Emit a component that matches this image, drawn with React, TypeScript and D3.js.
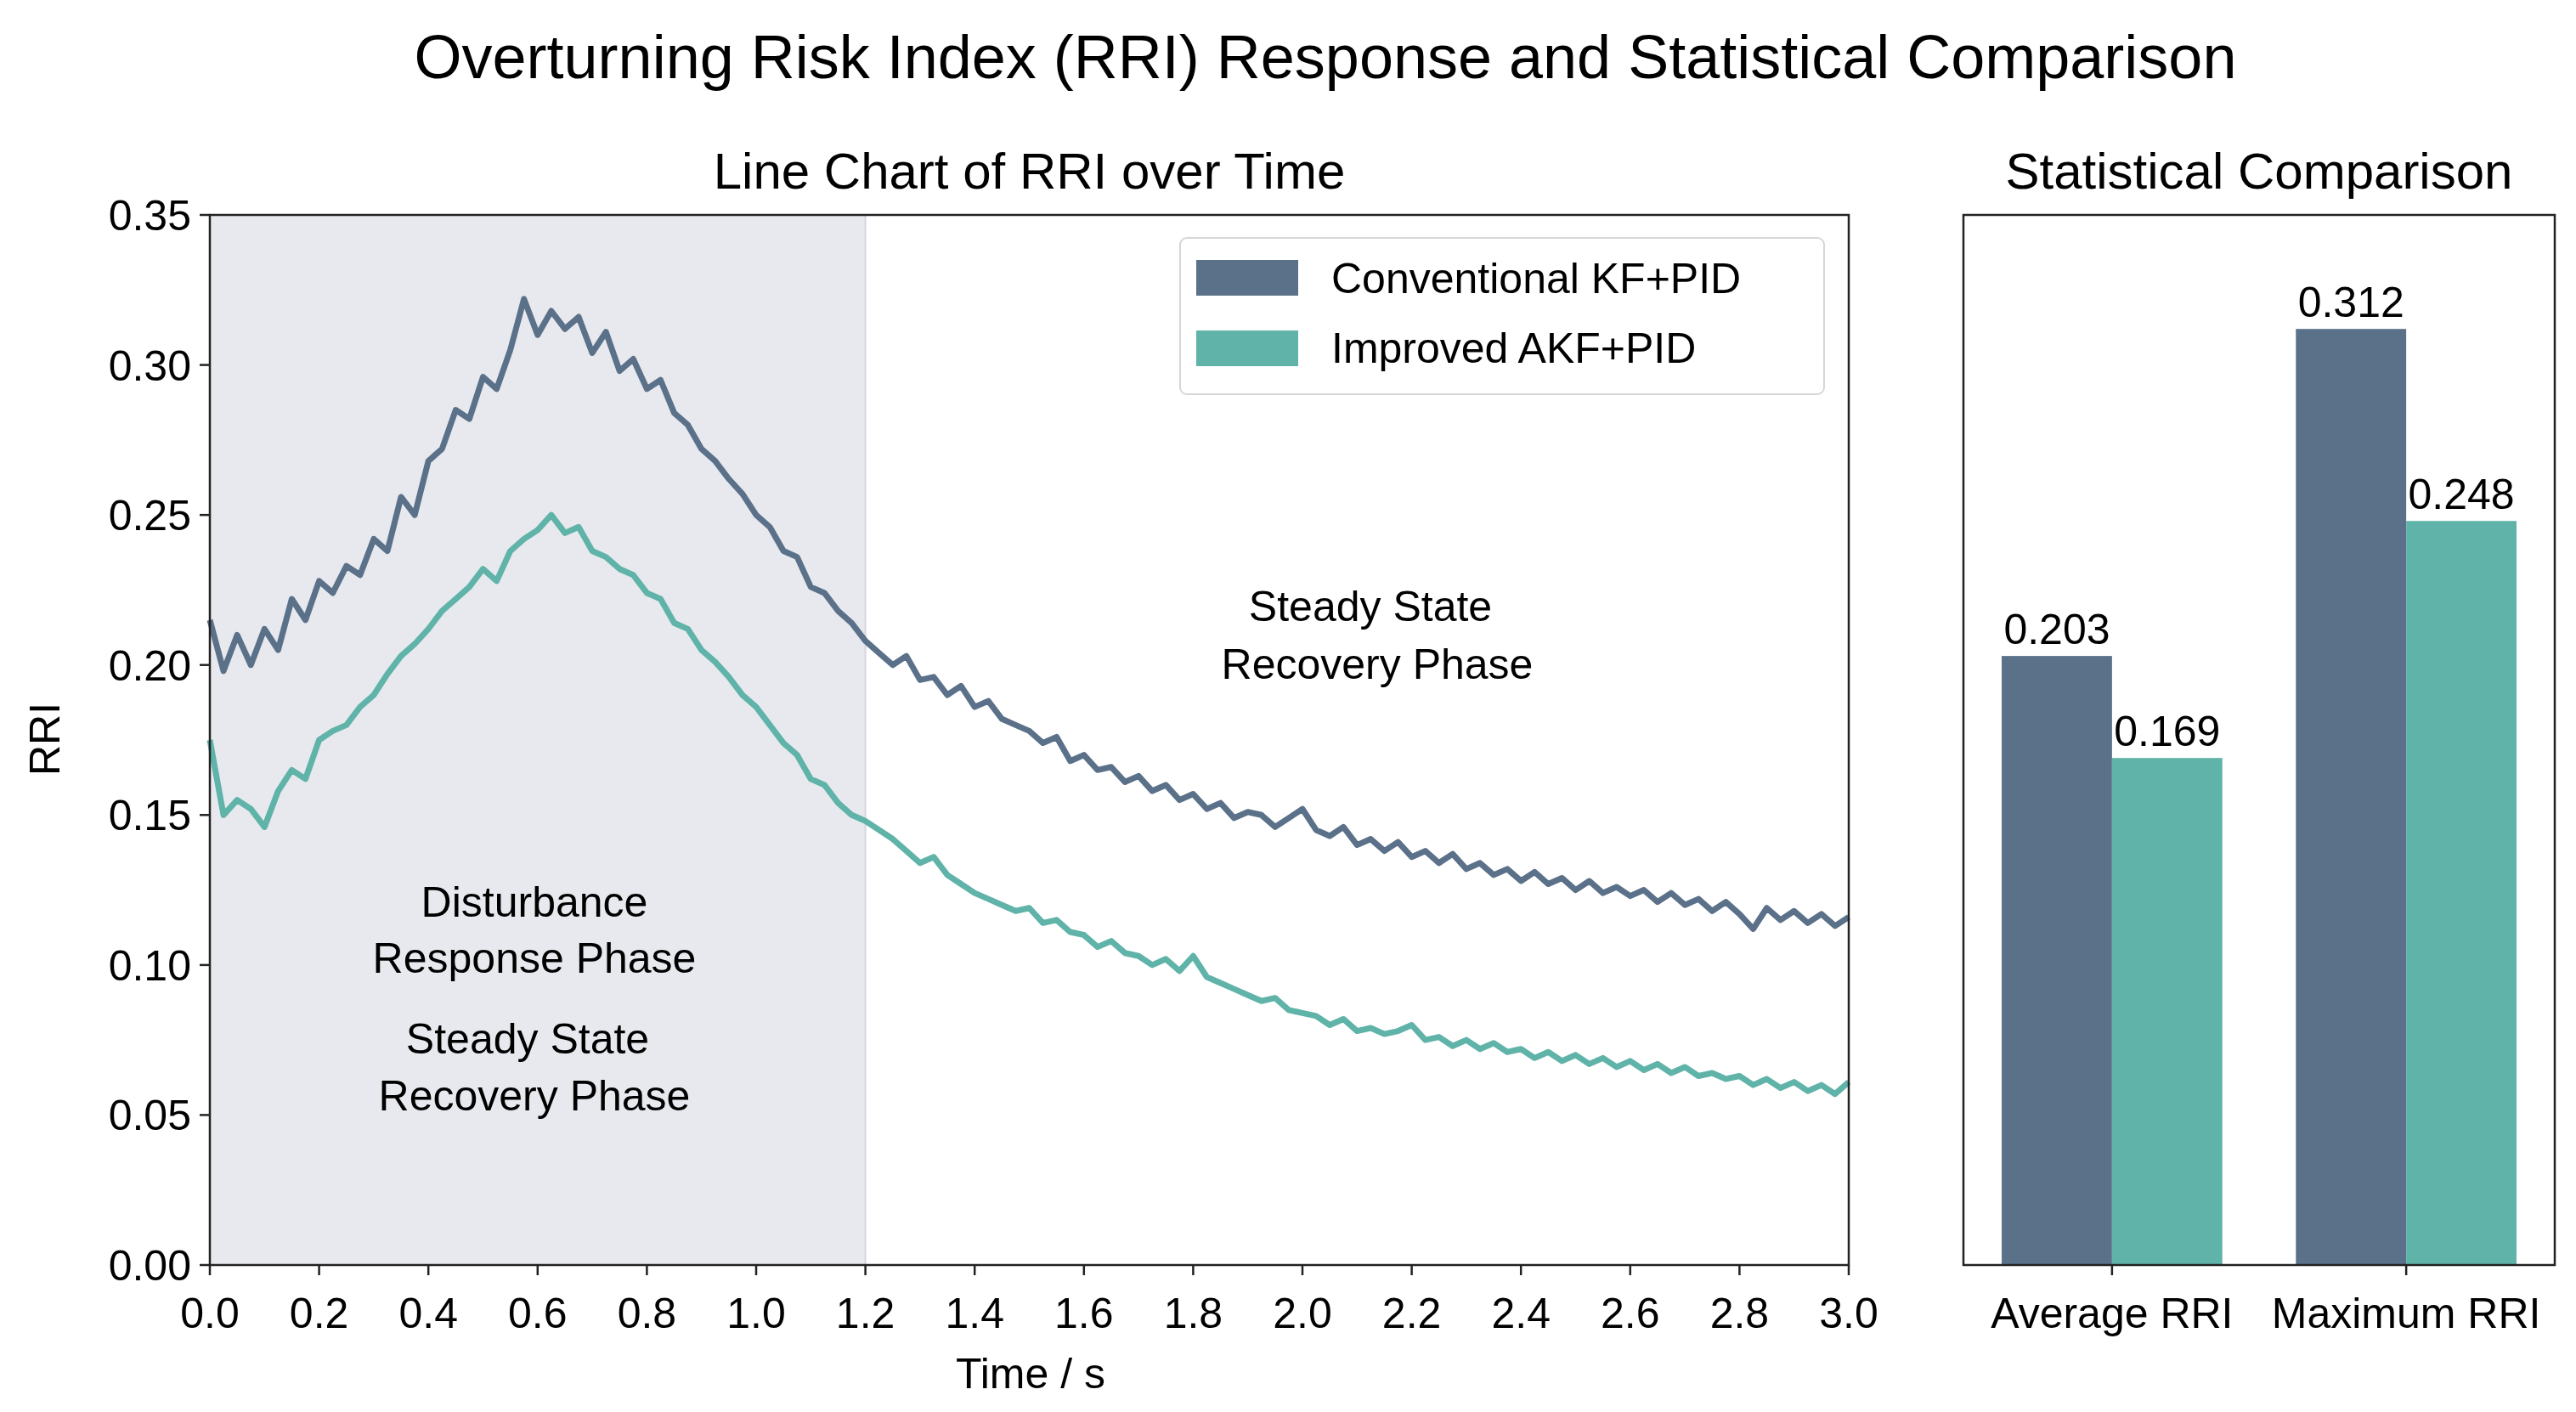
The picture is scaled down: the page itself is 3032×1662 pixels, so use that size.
import React from "react";
import * as d3 from "d3";

const times = d3.range(121).map(i => +(i * 0.025).toFixed(3));

const conventional = [
  0.215, 0.198, 0.210, 0.200, 0.212, 0.205, 0.222, 0.215, 0.228, 0.224, 0.233, 0.230, 0.242, 0.238, 0.256, 0.250,
  0.268, 0.272, 0.285, 0.282, 0.296, 0.292, 0.305, 0.322, 0.310, 0.318, 0.312, 0.316, 0.304, 0.311, 0.298, 0.302,
  0.292, 0.295, 0.284, 0.280, 0.272, 0.268, 0.262, 0.257, 0.250, 0.246, 0.238, 0.236, 0.226, 0.224, 0.218, 0.214,
  0.208, 0.204, 0.200, 0.203, 0.195, 0.196, 0.190, 0.193, 0.186, 0.188, 0.182, 0.180, 0.178, 0.174, 0.176, 0.168,
  0.170, 0.165, 0.166, 0.161, 0.163, 0.158, 0.160, 0.155, 0.157, 0.152, 0.154, 0.149, 0.151, 0.150, 0.146, 0.149,
  0.152, 0.145, 0.143, 0.146, 0.140, 0.142, 0.138, 0.141, 0.136, 0.138, 0.134, 0.137, 0.132, 0.134, 0.130, 0.132,
  0.128, 0.131, 0.127, 0.129, 0.125, 0.128, 0.124, 0.126, 0.123, 0.125, 0.121, 0.124, 0.120, 0.122, 0.118, 0.121,
  0.117, 0.112, 0.119, 0.115, 0.118, 0.114, 0.117, 0.113, 0.116,
];

const improved = [
  0.175, 0.150, 0.155, 0.152, 0.146, 0.158, 0.165, 0.162, 0.175, 0.178, 0.180, 0.186, 0.190, 0.197, 0.203, 0.207,
  0.212, 0.218, 0.222, 0.226, 0.232, 0.228, 0.238, 0.242, 0.245, 0.250, 0.244, 0.246, 0.238, 0.236, 0.232, 0.230,
  0.224, 0.222, 0.214, 0.212, 0.205, 0.201, 0.196, 0.190, 0.186, 0.180, 0.174, 0.170, 0.162, 0.160, 0.154, 0.150,
  0.148, 0.145, 0.142, 0.138, 0.134, 0.136, 0.130, 0.127, 0.124, 0.122, 0.120, 0.118, 0.119, 0.114, 0.115, 0.111,
  0.110, 0.106, 0.108, 0.104, 0.103, 0.100, 0.102, 0.098, 0.103, 0.096, 0.094, 0.092, 0.090, 0.088, 0.089, 0.085,
  0.084, 0.083, 0.080, 0.082, 0.078, 0.079, 0.077, 0.078, 0.080, 0.075, 0.076, 0.073, 0.075, 0.072, 0.074, 0.071,
  0.072, 0.069, 0.071, 0.068, 0.070, 0.067, 0.069, 0.066, 0.068, 0.065, 0.067, 0.064, 0.066, 0.063, 0.064, 0.062,
  0.063, 0.060, 0.062, 0.059, 0.061, 0.058, 0.060, 0.057, 0.061,
];

const seriesNames = ["Conventional KF+PID", "Improved AKF+PID"];
const barCategories = ["Average RRI", "Maximum RRI"];
const barConventional = [0.203, 0.312];
const barImproved = [0.169, 0.248];
const xTicks = d3.range(16).map(i => i * 0.2);
const yTicks = d3.range(8).map(i => i * 0.05);

const DARK = "#5a7189";
const TEAL = "#5fb3a8";
const FONT = "'Liberation Sans', Arial, sans-serif";
const FS = 50;

export default function App() {
  const W = 3032, H = 1662;
  const L = { left: 247, right: 2176, top: 253, bottom: 1489 };
  const B = { left: 2311, right: 3007 };

  const x = d3.scaleLinear().domain([0, 3]).range([L.left, L.right]);
  const y = d3.scaleLinear().domain([0, 0.35]).range([L.bottom, L.top]);
  const line = d3.line<number>().x((_, i) => x(times[i])).y(d => y(d));

  const band = d3.scaleBand<string>().domain(barCategories).range([B.left, B.right])
    .paddingInner(0.25).paddingOuter(0.13);
  const half = band.bandwidth() / 2;

  return (
    <div style={{ position: "fixed", left: 0, top: 0, background: "#fff" }}>
      <svg width={W} height={H} style={{ display: "block" }} fontFamily={FONT}>
        <rect width={W} height={H} fill="#fff" />
        <text x={1560} y={92} fontSize={72} textAnchor="middle">
          Overturning Risk Index (RRI) Response and Statistical Comparison
        </text>

        {/* line chart */}
        <text x={(L.left + L.right) / 2} y={222} fontSize={60} textAnchor="middle">Line Chart of RRI over Time</text>
        <rect x={x(0)} y={L.top} width={x(1.2) - x(0)} height={L.bottom - L.top} fill="#e8e9ee" />
        <line x1={x(1.2)} x2={x(1.2)} y1={L.top} y2={L.bottom} stroke="#d4d6de" strokeWidth={2} />
        <path d={line(conventional) || ""} fill="none" stroke={DARK} strokeWidth={7} strokeLinejoin="round" />
        <path d={line(improved) || ""} fill="none" stroke={TEAL} strokeWidth={7} strokeLinejoin="round" />
        <rect x={L.left} y={L.top} width={L.right - L.left} height={L.bottom - L.top} fill="none" stroke="#222" strokeWidth={2.5} />

        {xTicks.map(t => (
          <g key={"x" + t}>
            <line x1={x(t)} x2={x(t)} y1={L.bottom} y2={L.bottom + 12} stroke="#222" strokeWidth={2.5} />
            <text x={x(t)} y={1563} fontSize={FS} textAnchor="middle">{t.toFixed(1)}</text>
          </g>
        ))}
        {yTicks.map(t => (
          <g key={"y" + t}>
            <line x1={L.left - 12} x2={L.left} y1={y(t)} y2={y(t)} stroke="#222" strokeWidth={2.5} />
            <text x={L.left - 22} y={y(t) + 18} fontSize={FS} textAnchor="end">{t.toFixed(2)}</text>
          </g>
        ))}
        <text x={1213} y={1634} fontSize={FS} textAnchor="middle">Time / s</text>
        <text transform={`translate(70,870) rotate(-90)`} fontSize={FS} textAnchor="middle">RRI</text>

        <g fontSize={FS} textAnchor="middle">
          <text x={629} y={1079}>Disturbance</text>
          <text x={629} y={1145}>Response Phase</text>
          <text x={621} y={1240}>Steady State</text>
          <text x={629} y={1307}>Recovery Phase</text>
          <text x={1613} y={731}>Steady State</text>
          <text x={1621} y={799}>Recovery Phase</text>
        </g>

        <g>
          <rect x={1389} y={280} width={758} height={184} rx={8} fill="#fff" fillOpacity={0.85} stroke="#d6d6d6" strokeWidth={2} />
          {seriesNames.map((n, i) => (
            <g key={n}>
              <rect x={1408} y={306 + i * 83} width={120} height={42} fill={i === 0 ? DARK : TEAL} />
              <text x={1567} y={345 + i * 82} fontSize={FS}>{n}</text>
            </g>
          ))}
        </g>

        {/* bar chart */}
        <text x={(B.left + B.right) / 2} y={222} fontSize={60} textAnchor="middle">Statistical Comparison</text>
        {barCategories.map((c, i) => {
          const x0 = band(c)!;
          return (
            <g key={c}>
              <rect x={x0} y={y(barConventional[i])} width={half} height={L.bottom - y(barConventional[i])} fill={DARK} />
              <rect x={x0 + half} y={y(barImproved[i])} width={half} height={L.bottom - y(barImproved[i])} fill={TEAL} />
              <text x={x0 + half / 2} y={y(barConventional[i]) - 14} fontSize={FS} textAnchor="middle">{barConventional[i].toFixed(3)}</text>
              <text x={x0 + half * 1.5} y={y(barImproved[i]) - 14} fontSize={FS} textAnchor="middle">{barImproved[i].toFixed(3)}</text>
              <line x1={x0 + half} x2={x0 + half} y1={L.bottom} y2={L.bottom + 12} stroke="#222" strokeWidth={2.5} />
              <text x={x0 + half} y={1563} fontSize={FS} textAnchor="middle">{c}</text>
            </g>
          );
        })}
        <rect x={B.left} y={L.top} width={B.right - B.left} height={L.bottom - L.top} fill="none" stroke="#222" strokeWidth={2.5} />
      </svg>
    </div>
  );
}
